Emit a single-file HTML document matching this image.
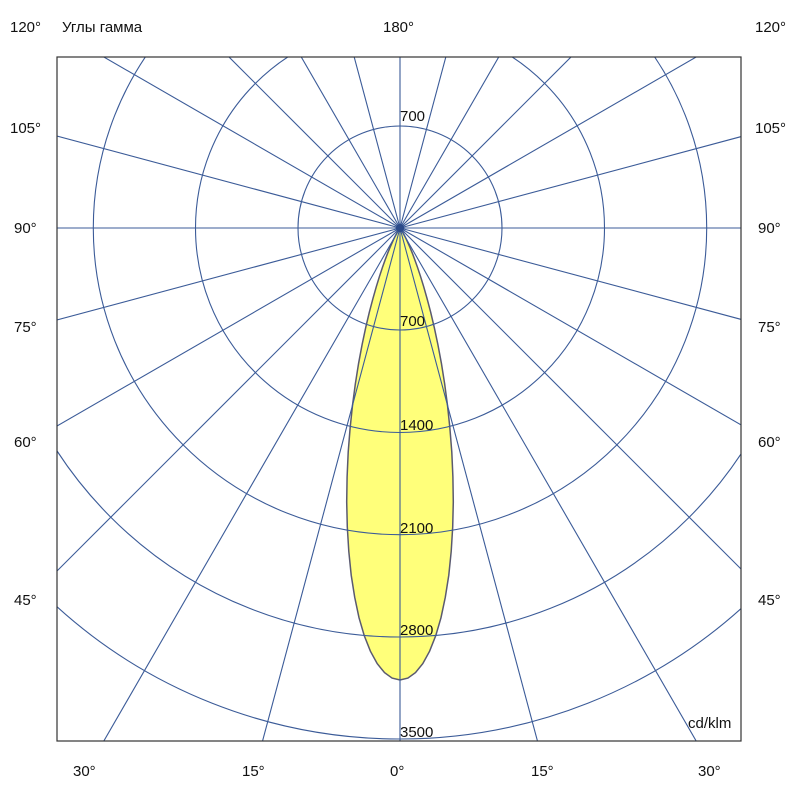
<!DOCTYPE html>
<html><head><meta charset="utf-8"><style>
html,body{margin:0;background:#fff;overflow:hidden;width:800px;height:800px;}
svg{display:block;}
svg text{font-family:"Liberation Sans",sans-serif;font-size:15px;fill:#111;}
</style></head><body>
<svg width="800" height="800" xmlns="http://www.w3.org/2000/svg">
<defs><clipPath id="c"><rect x="57" y="57" width="684" height="684"/></clipPath></defs>
<polygon id="lobe" fill="#ffff7a" stroke="#5a5a70" stroke-width="1.5"/>
<g clip-path="url(#c)" stroke="#3b5b98" stroke-width="1.1" fill="none">
<circle cx="400" cy="228" r="102"/>
<circle cx="400" cy="228" r="204.5"/>
<circle cx="400" cy="228" r="306.7"/>
<circle cx="400" cy="228" r="409"/>
<circle cx="400" cy="228" r="511"/>
</g>
<g clip-path="url(#c)" stroke="#3b5b98" stroke-width="1.1" id="rad"></g>
<rect x="57" y="57" width="684" height="684" fill="none" stroke="#333" stroke-width="1.2"/>
<circle cx="400" cy="228" r="4" fill="#2b4a8a"/>
<text x="400" y="121">700</text>
<text x="400" y="326">700</text>
<text x="400" y="430">1400</text>
<text x="400" y="533">2100</text>
<text x="400" y="635">2800</text>
<text x="400" y="737">3500</text>
<text x="10" y="32">120°</text>
<text x="62" y="32">Углы гамма</text>
<text x="383" y="32">180°</text>
<text x="755" y="32">120°</text>
<text x="10" y="133">105°</text><text x="755" y="133">105°</text>
<text x="14" y="233">90°</text><text x="758" y="233">90°</text>
<text x="14" y="332">75°</text><text x="758" y="332">75°</text>
<text x="14" y="447">60°</text><text x="758" y="447">60°</text>
<text x="14" y="605">45°</text><text x="758" y="605">45°</text>
<text x="73" y="776">30°</text><text x="242" y="776">15°</text><text x="390" y="776">0°</text>
<text x="531" y="776">15°</text><text x="698" y="776">30°</text>
<text x="688" y="728">cd/klm</text>
</svg>
<script>
var rad=document.getElementById('rad'),s='';
for(var a=0;a<360;a+=15){var t=a*Math.PI/180;s+='<line x1="400" y1="228" x2="'+(400+1200*Math.sin(t))+'" y2="'+(228+1200*Math.cos(t))+'"/>';}
rad.innerHTML=s;
var p=[];for(var d=-90;d<=90;d+=1){var t=d*Math.PI/180;var r=452*Math.pow(Math.cos(t),26);p.push((400+r*Math.sin(t)).toFixed(1)+','+(228+r*Math.cos(t)).toFixed(1));}
document.getElementById('lobe').setAttribute('points',p.join(' '));
</script>
</body></html>
